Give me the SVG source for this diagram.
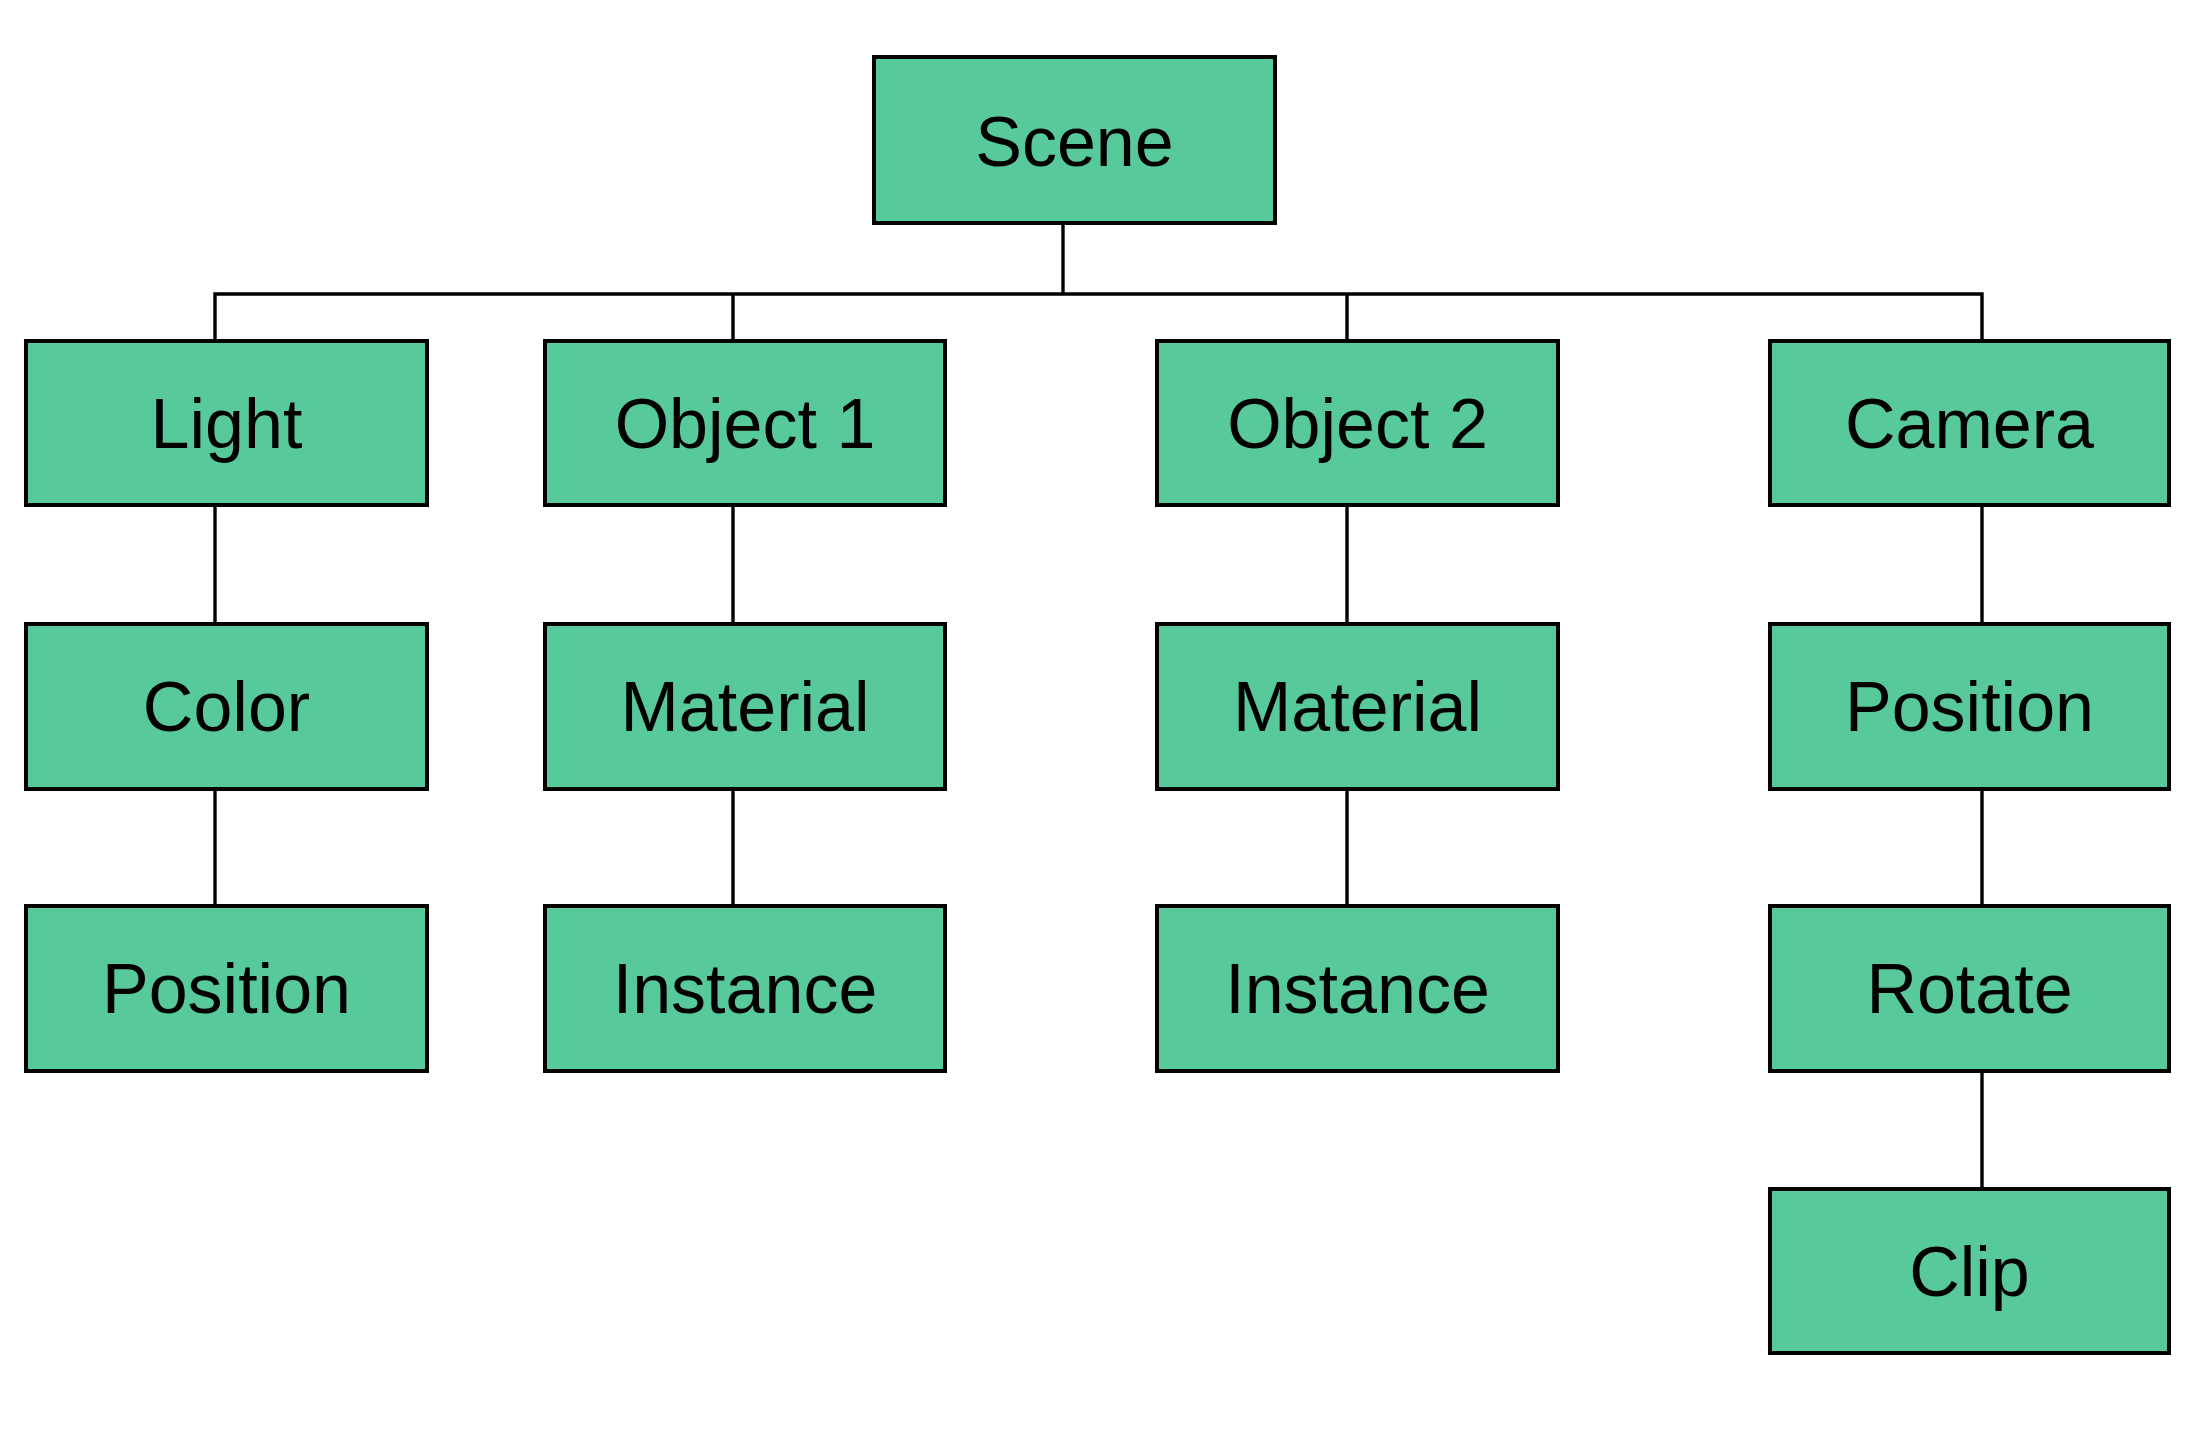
<svg xmlns="http://www.w3.org/2000/svg" width="2204" height="1430" viewBox="0 0 2204 1430">
<style>
.box{fill:#57C99B;stroke:#000;stroke-width:4}
.lbl{font-family:"Liberation Sans",Arial,sans-serif;font-size:70px;fill:#000;text-anchor:middle}
.con{stroke:#000;stroke-width:3.4;fill:none}
</style>
<rect width="2204" height="1430" fill="#fff"/>
<g id="connectors">
<line class="con" x1="1063" y1="223" x2="1063" y2="294"/>
<polyline class="con" points="215,341 215,294 1982,294 1982,341"/>
<line class="con" x1="733" y1="294" x2="733" y2="341"/>
<line class="con" x1="1347" y1="294" x2="1347" y2="341"/>
<line class="con" x1="215" y1="505" x2="215" y2="624"/>
<line class="con" x1="215" y1="789" x2="215" y2="906"/>
<line class="con" x1="733" y1="505" x2="733" y2="624"/>
<line class="con" x1="733" y1="789" x2="733" y2="906"/>
<line class="con" x1="1347" y1="505" x2="1347" y2="624"/>
<line class="con" x1="1347" y1="789" x2="1347" y2="906"/>
<line class="con" x1="1982" y1="505" x2="1982" y2="624"/>
<line class="con" x1="1982" y1="789" x2="1982" y2="906"/>
<line class="con" x1="1982" y1="1071" x2="1982" y2="1189"/>
</g>
<g id="scene"><rect class="box" x="874" y="57" width="401" height="166"/><text class="lbl" x="1074.5" y="166">Scene</text></g>
<g id="light"><rect class="box" x="26" y="341" width="401" height="164"/><text class="lbl" x="226.5" y="448">Light</text></g>
<g id="object1"><rect class="box" x="545" y="341" width="400" height="164"/><text class="lbl" x="745" y="448">Object 1</text></g>
<g id="object2"><rect class="box" x="1157" y="341" width="401" height="164"/><text class="lbl" x="1357.5" y="448">Object 2</text></g>
<g id="camera"><rect class="box" x="1770" y="341" width="399" height="164"/><text class="lbl" x="1969.5" y="448">Camera</text></g>
<g id="light-color"><rect class="box" x="26" y="624" width="401" height="165"/><text class="lbl" x="226.5" y="731">Color</text></g>
<g id="object1-material"><rect class="box" x="545" y="624" width="400" height="165"/><text class="lbl" x="745" y="731">Material</text></g>
<g id="object2-material"><rect class="box" x="1157" y="624" width="401" height="165"/><text class="lbl" x="1357.5" y="731">Material</text></g>
<g id="camera-position"><rect class="box" x="1770" y="624" width="399" height="165"/><text class="lbl" x="1969.5" y="731">Position</text></g>
<g id="light-position"><rect class="box" x="26" y="906" width="401" height="165"/><text class="lbl" x="226.5" y="1013">Position</text></g>
<g id="object1-instance"><rect class="box" x="545" y="906" width="400" height="165"/><text class="lbl" x="745" y="1013">Instance</text></g>
<g id="object2-instance"><rect class="box" x="1157" y="906" width="401" height="165"/><text class="lbl" x="1357.5" y="1013">Instance</text></g>
<g id="camera-rotate"><rect class="box" x="1770" y="906" width="399" height="165"/><text class="lbl" x="1969.5" y="1013">Rotate</text></g>
<g id="camera-clip"><rect class="box" x="1770" y="1189" width="399" height="164"/><text class="lbl" x="1969.5" y="1296">Clip</text></g>
</svg>
